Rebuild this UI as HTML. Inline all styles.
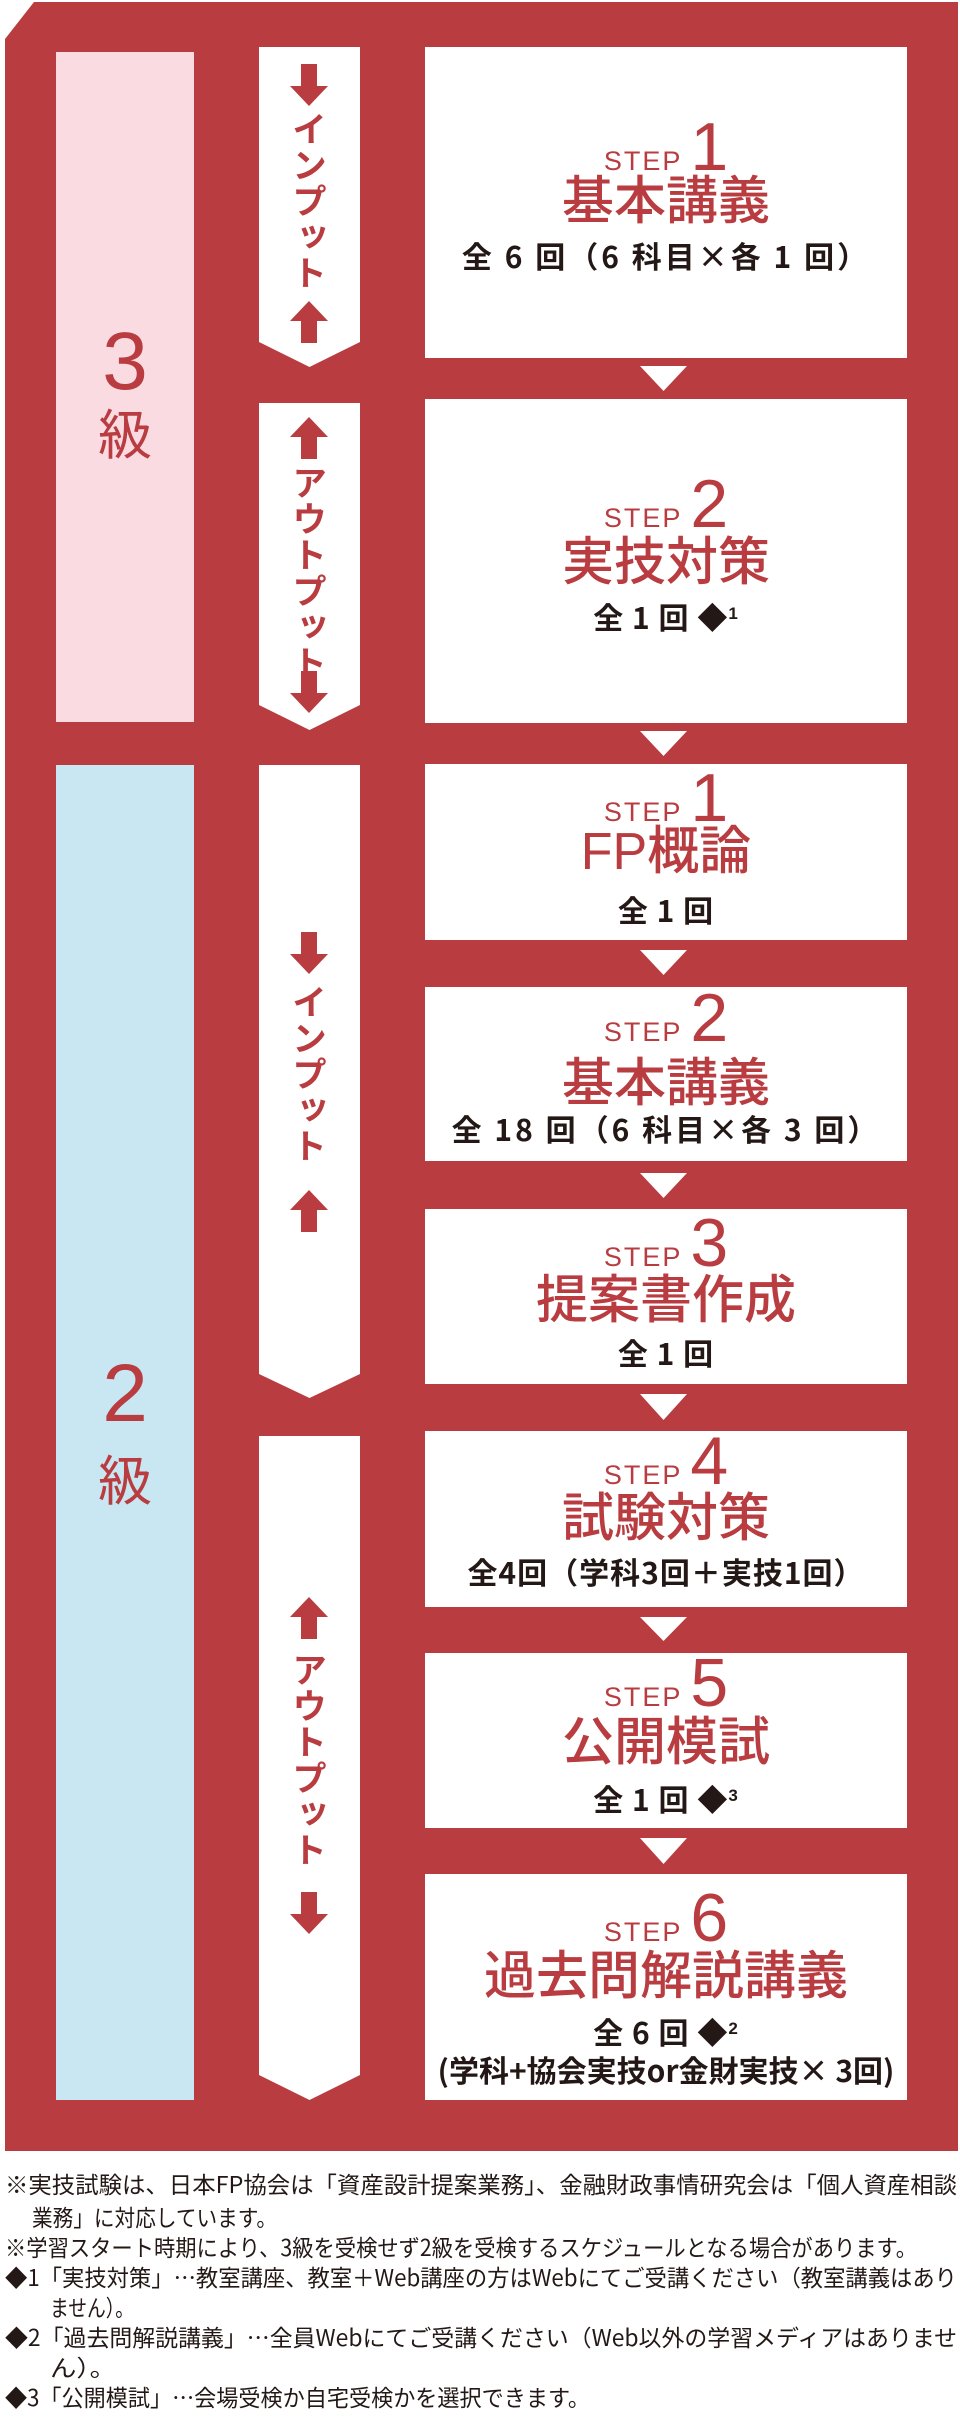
<!DOCTYPE html>
<html><head><meta charset="utf-8"><style>
*{margin:0;padding:0;box-sizing:border-box}
body{width:960px;height:2424px;background:#fff;position:relative;overflow:hidden;font-family:"Liberation Sans","Noto Sans CJK JP",sans-serif}
.a{position:absolute}
.c{position:absolute;left:425px;width:482px;text-align:center;white-space:nowrap}
.st{font-family:"Liberation Sans",sans-serif;color:#b83c40;height:66px;line-height:66px}
.st .s{font-size:27px;letter-spacing:2px}
.st .n{font-size:68px;margin-left:8px}
.t{font-family:"Noto Sans CJK JP",sans-serif;color:#b83c40;font-size:52px;line-height:52px;font-weight:500}
.sb{font-family:"Noto Sans CJK JP",sans-serif;color:#231815;font-size:30px;line-height:30px;font-weight:700;letter-spacing:3px}
.sb sup{font-size:17px;vertical-align:10px;font-family:"Liberation Sans",sans-serif}
.v{position:absolute;left:291px;width:36px;writing-mode:vertical-rl;text-orientation:upright;font-family:"Noto Sans CJK JP",sans-serif;font-size:35px;line-height:36px;letter-spacing:1px;color:#b83c40;font-weight:700}
.lv{position:absolute;width:138px;left:56px;text-align:center;color:#b83c40}
.fn text{font-family:"Noto Sans CJK JP",sans-serif;font-size:23px;fill:#231815}
</style></head><body>
<svg class="a" style="left:0;top:0" width="960" height="2424">
<polygon points="34,2 958,2 958,2151 5,2151 5,39" fill="#b83c40"/>
<rect x="56" y="52" width="138" height="670" fill="#fadbe2"/>
<rect x="56" y="765" width="138" height="1335" fill="#c9e7f2"/>
<g fill="#fff">
<polygon points="259,47 360,47 360,342 309.5,367 259,342"/>
<polygon points="259,403 360,403 360,705 309.5,730 259,705"/>
<polygon points="259,765 360,765 360,1374 309.5,1398 259,1374"/>
<polygon points="259,1436 360,1436 360,2075 309.5,2100 259,2075"/>
<rect x="425" y="47" width="482" height="311"/>
<rect x="425" y="399" width="482" height="324"/>
<rect x="425" y="764" width="482" height="176"/>
<rect x="425" y="987" width="482" height="174"/>
<rect x="425" y="1209" width="482" height="175"/>
<rect x="425" y="1431" width="482" height="176"/>
<rect x="425" y="1653" width="482" height="175"/>
<rect x="425" y="1874" width="482" height="226"/>
<polygon points="640,366 687,366 663.5,391"/>
<polygon points="640,731 687,731 663.5,756"/>
<polygon points="640,950 687,950 663.5,975"/>
<polygon points="640,1173 687,1173 663.5,1198"/>
<polygon points="640,1394 687,1394 663.5,1420"/>
<polygon points="640,1617 687,1617 663.5,1641"/>
<polygon points="640,1838 687,1838 663.5,1864"/>
</g>
<g fill="#b83c40">
<path d="M301,64h16v22h11l-19,20l-19,-20h11z"/>
<path d="M301,671h16v22h11l-19,20l-19,-20h11z"/>
<path d="M301,932h16v22h11l-19,20l-19,-20h11z"/>
<path d="M301,1892h16v22h11l-19,20l-19,-20h11z"/>
<path d="M309,301l19,20h-11v22h-16v-22h-11z"/>
<path d="M309,417l19,20h-11v22h-16v-22h-11z"/>
<path d="M309,1190l19,20h-11v22h-16v-22h-11z"/>
<path d="M309,1597l19,20h-11v22h-16v-22h-11z"/>
</g>
<g class="fn">
<text x="5" y="2193" textLength="952" lengthAdjust="spacingAndGlyphs">※実技試験は、日本FP協会は「資産設計提案業務」、金融財政事情研究会は「個人資産相談</text>
<text x="32" y="2226" textLength="245" lengthAdjust="spacingAndGlyphs">業務」に対応しています。</text>
<text x="5" y="2256" textLength="912" lengthAdjust="spacingAndGlyphs">※学習スタート時期により、3級を受検せず2級を受検するスケジュールとなる場合があります。</text>
<text x="5" y="2286" textLength="952" lengthAdjust="spacingAndGlyphs">◆1「実技対策」…教室講座、教室＋Web講座の方はWebにてご受講ください（教室講義はあり</text>
<text x="50" y="2316" textLength="84" lengthAdjust="spacingAndGlyphs">ません）。</text>
<text x="5" y="2346" textLength="952" lengthAdjust="spacingAndGlyphs">◆2「過去問解説講義」…全員Webにてご受講ください（Web以外の学習メディアはありませ</text>
<text x="50" y="2376" textLength="66" lengthAdjust="spacingAndGlyphs">ん）。</text>
<text x="5" y="2406" textLength="585" lengthAdjust="spacingAndGlyphs">◆3「公開模試」…会場受検か自宅受検かを選択できます。</text>
</g>
</svg>

<div class="v" style="top:111px">インプット</div>
<div class="v" style="top:465px">アウトプット</div>
<div class="v" style="top:984px">インプット</div>
<div class="v" style="top:1652px">アウトプット</div>

<div class="lv" style="top:321px;font-size:82px;line-height:82px;font-family:'Liberation Sans',sans-serif">3</div>
<div class="lv" style="top:404px;font-size:54px;line-height:54px;font-family:'Noto Sans CJK JP',sans-serif">級</div>
<div class="lv" style="top:1353px;font-size:82px;line-height:82px;font-family:'Liberation Sans',sans-serif">2</div>
<div class="lv" style="top:1450px;font-size:54px;line-height:54px;font-family:'Noto Sans CJK JP',sans-serif">級</div>

<div class="c st" style="top:114px"><span class="s">STEP</span><span class="n">1</span></div>
<div class="c t" style="top:171px">基本講義</div>
<div class="c sb" style="top:240px">全 6 回（6 科目×各 1 回）</div>

<div class="c st" style="top:471px"><span class="s">STEP</span><span class="n">2</span></div>
<div class="c t" style="top:532px">実技対策</div>
<div class="c sb" style="top:599px;letter-spacing:1px">全 1 回 ◆<sup>1</sup></div>

<div class="c st" style="top:765px"><span class="s">STEP</span><span class="n">1</span></div>
<div class="c t" style="top:826px;font-family:'Liberation Sans','Noto Sans CJK JP',sans-serif">FP概論</div>
<div class="c sb" style="top:894px;letter-spacing:1px">全 1 回</div>

<div class="c st" style="top:985px"><span class="s">STEP</span><span class="n">2</span></div>
<div class="c t" style="top:1053px">基本講義</div>
<div class="c sb" style="top:1113px">全 18 回（6 科目×各 3 回）</div>

<div class="c st" style="top:1210px"><span class="s">STEP</span><span class="n">3</span></div>
<div class="c t" style="top:1270px">提案書作成</div>
<div class="c sb" style="top:1337px;letter-spacing:1px">全 1 回</div>

<div class="c st" style="top:1428px"><span class="s">STEP</span><span class="n">4</span></div>
<div class="c t" style="top:1488px">試験対策</div>
<div class="c sb" style="top:1556px;letter-spacing:1px">全4回（学科3回＋実技1回）</div>

<div class="c st" style="top:1650px"><span class="s">STEP</span><span class="n">5</span></div>
<div class="c t" style="top:1712px">公開模試</div>
<div class="c sb" style="top:1781px;letter-spacing:1px">全 1 回 ◆<sup>3</sup></div>

<div class="c st" style="top:1885px"><span class="s">STEP</span><span class="n">6</span></div>
<div class="c t" style="top:1946px">過去問解説講義</div>
<div class="c sb" style="top:2014px;letter-spacing:1px">全 6 回 ◆<sup>2</sup></div>
<div class="c sb" style="top:2054px;letter-spacing:0px">(学科+協会実技or金財実技× 3回)</div>
</body></html>
